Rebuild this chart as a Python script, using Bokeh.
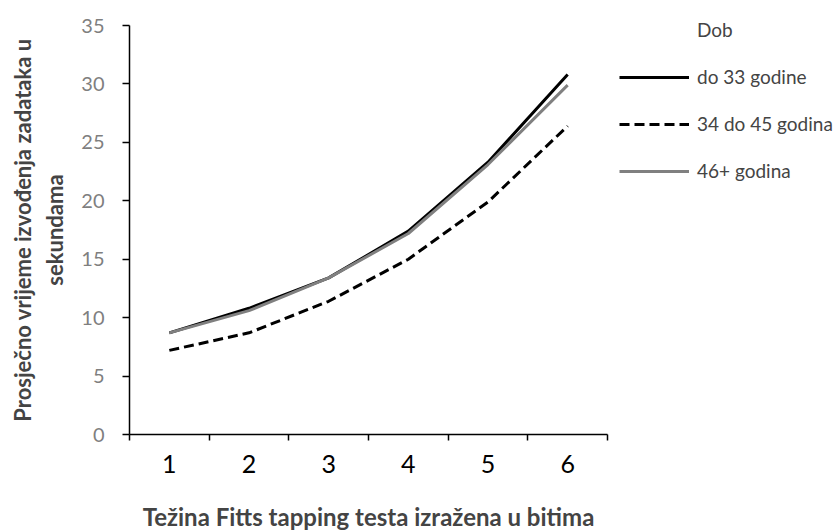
from bokeh.plotting import figure
from bokeh.models import FixedTicker, Legend, LegendItem, Range1d
from bokeh.embed import file_html
from bokeh.resources import INLINE

x_vals = [1, 2, 3, 4, 5, 6]
x_labels = ["1", "2", "3", "4", "5", "6"]
legend_title = "Dob"
series_names = ["do 33 godine", "34 do 45 godina", "46+ godina"]
do33 = [8.7, 10.8, 13.4, 17.4, 23.3, 30.8]
od34do45 = [7.2, 8.7, 11.4, 15.0, 19.9, 26.4]
od46 = [8.7, 10.6, 13.4, 17.2, 23.1, 29.9]
y_ticks = [0, 5, 10, 15, 20, 25, 30, 35]

FONT = "Lato"

p = figure(frame_width=478, frame_height=409, output_backend="svg", toolbar_location=None,
           x_range=Range1d(0.5, 6.5), y_range=Range1d(0, 35),
           min_border_left=129, min_border_right=221, min_border_top=25, min_border_bottom=97)
p.outline_line_color = None
p.grid.grid_line_color = None
p.background_fill_color = "white"

r1 = p.line(x_vals, do33, line_color="black", line_width=3)
r2 = p.line(x_vals, od34do45, line_color="black", line_width=3, line_dash="10 5")
r3 = p.line(x_vals, od46, line_color="#808080", line_width=3)
r_title = p.line(x_vals, do33, line_alpha=0)  # invisible: legend heading only

# x axis
p.xaxis.ticker = FixedTicker(ticks=x_vals, minor_ticks=[0.5, 1.5, 2.5, 3.5, 4.5, 5.5, 6.5])
p.xaxis.major_label_overrides = {v: l for v, l in zip(x_vals, x_labels)}
p.xaxis.major_tick_line_color = None
p.xaxis.minor_tick_line_color = "black"
p.xaxis.minor_tick_line_width = 1.5
p.xaxis.minor_tick_out = 6
p.xaxis.minor_tick_in = 0
p.xaxis.axis_line_color = "black"
p.xaxis.axis_line_width = 1.5
p.xaxis.major_label_text_font = FONT
p.xaxis.major_label_text_font_size = "25px"
p.xaxis.major_label_text_color = "black"
p.xaxis.major_label_standoff = 14
p.xaxis.axis_label = "Težina Fitts tapping testa izražena u bitima"
p.xaxis.axis_label_text_font = FONT
p.xaxis.axis_label_text_font_style = "bold"
p.xaxis.axis_label_text_font_size = "24px"
p.xaxis.axis_label_standoff = 26

# y axis
p.yaxis.ticker = FixedTicker(ticks=y_ticks)
p.yaxis.major_tick_line_color = "black"
p.yaxis.major_tick_line_width = 1.5
p.yaxis.major_tick_out = 7
p.yaxis.major_tick_in = 0
p.yaxis.minor_tick_line_color = None
p.yaxis.axis_line_color = "black"
p.yaxis.axis_line_width = 1.5
p.yaxis.major_label_text_font = FONT
p.yaxis.major_label_text_font_size = "20px"
p.yaxis.major_label_text_color = "#7f7f7f"
p.yaxis.major_label_standoff = 18
p.yaxis.axis_label = "Prosječno vrijeme izvođenja zadataka u\nsekundama"
p.yaxis.axis_label_text_font = FONT
p.yaxis.axis_label_text_font_style = "bold"
p.yaxis.axis_label_text_font_size = "22px"
p.yaxis.axis_label_standoff = 10

legend = Legend(items=[LegendItem(label=legend_title, renderers=[r_title]),
                       LegendItem(label=series_names[0], renderers=[r1]),
                       LegendItem(label=series_names[1], renderers=[r2]),
                       LegendItem(label=series_names[2], renderers=[r3])],
                location=(12, 252), glyph_width=70, glyph_height=20, spacing=24,
                label_text_font=FONT, label_text_font_size="19px", label_standoff=8,
                label_height=20,
                border_line_color=None, background_fill_alpha=0, padding=0, margin=0)
p.add_layout(legend, "right")

open("out.html", "w").write(file_html(p, INLINE))
